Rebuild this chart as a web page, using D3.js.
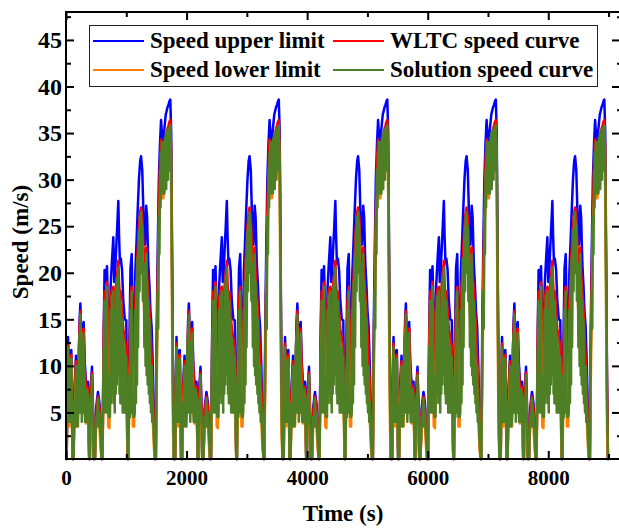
<!DOCTYPE html>
<html>
<head>
<meta charset="utf-8">
<script src="https://cdn.jsdelivr.net/npm/d3@7"></script>
<style>
  body { margin: 0; background: #fff; }
  text { font-family: "Times New Roman", "Liberation Serif", serif; font-weight: bold; fill: #000; }
</style>
</head>
<body>
<div id="graf"></div>
<script>
// one WLTC cycle (time in s, speed in m/s)
cycleTime = [0, 11, 20, 33, 45, 55, 70, 88, 100, 110, 125, 140, 166, 180, 200, 225, 238, 255, 275, 293,
  310, 330, 350, 365, 385, 395, 410, 431, 445, 460, 480, 500, 530, 555, 575, 590, 605, 625, 640, 660,
  680, 700, 720, 740, 760, 785, 800, 815, 835, 850, 868, 880, 895, 910, 930, 950, 975, 1000, 1015, 1025,
  1035, 1050, 1070, 1090, 1110, 1130, 1150, 1170, 1185, 1210, 1230, 1245, 1265, 1290, 1310, 1330, 1345, 1365, 1385, 1400,
  1420, 1440, 1460, 1477, 1490, 1505, 1520, 1540, 1560, 1577, 1590, 1600, 1615, 1625, 1640, 1655, 1670, 1685, 1700, 1715,
  1730, 1745, 1760, 1775, 1790, 1800]

wltcSpeed = [0, 0, 7, 12.4, 10, 9.5, 11, 11.2, 5, 0, 0, 7, 10.5, 8, 6, 14, 15.9, 12, 13, 14,
  10, 7.5, 7.8, 7.6, 0, 0, 7, 9.3, 6, 0, 0, 5, 6.7, 5.5, 3, 0, 0, 13, 18, 17,
  19, 14, 8, 17, 18.2, 18.5, 16, 17, 19, 20, 21.3, 19, 17, 18, 16, 14, 13, 12, 4, 0,
  0, 10, 17, 18.5, 12, 9, 17, 19.5, 22, 25, 26.5, 27, 26, 22, 20, 22.7, 20, 18, 16, 14,
  11, 8, 3, 0, 0, 12, 19, 27, 32, 34.3, 33, 32, 32.5, 33, 34, 34.5, 35, 35.5, 35.8, 36.2,
  36.4, 33, 20, 8, 0, 0]

upperSpeed = [0, 0, 7.5, 13.1, 10.5, 10.2, 11.6, 11.7, 5.5, 0, 0, 7.5, 11.1, 8.5, 6.6, 14.8, 16.7, 12.8, 13.8, 14.7,
  10.6, 8.2, 8.3, 8.3, 0, 0, 7.6, 9.9, 6.5, 0, 0, 5.5, 7.2, 6, 3.3, 0, 0, 13.8, 20.3, 19,
  20.7, 15, 9, 18.5, 21, 23.8, 19, 20, 23, 25, 27.7, 24, 21, 21.5, 20.3, 17, 15, 14.9, 5, 0,
  0, 12, 20.5, 22, 14, 10, 20, 23.3, 26, 30, 32, 32.5, 31, 25, 23, 27.2, 26, 21, 18.5, 16,
  14.2, 10, 4, 0, 0, 14, 21.7, 30, 34, 36.4, 35, 34.5, 34.2, 35, 36, 37, 37.4, 37.8, 38, 38.4,
  38.6, 35, 22, 9, 0, 0]

lowerSpeed = [0, 0, 4, 11, 8, 3.5, 9.5, 9.8, 3.5, 0, 0, 4, 9, 3.5, 3.5, 12, 14, 6, 9, 11,
  5, 3.8, 6.5, 5, 0, 0, 4, 7, 3.5, 0, 0, 3.3, 5, 3.3, 1, 0, 0, 8, 14, 11,
  15, 3.5, 3.3, 12, 14, 16, 11.4, 11.5, 15, 17, 18, 14, 11, 14, 10, 10, 9, 7, 2, 0,
  0, 6, 12, 14, 3.5, 3.5, 12, 15, 18, 22, 25, 25.5, 23, 17, 14, 18, 15, 13, 11, 7.5,
  7.5, 4, 1, 0, 0, 8, 15, 24, 28, 29, 28.5, 28, 28, 29, 29, 30, 31, 31, 32, 33,
  34, 28, 14, 3, 0, 0]

// the solution oscillates much more, so it keeps its own time points
solutionTime = [0, 11, 20, 33, 40, 45, 55, 62, 70, 78, 88, 100, 110, 125, 140, 150, 166, 172, 180, 190,
  200, 212, 225, 232, 238, 247, 255, 262, 275, 283, 293, 300, 310, 318, 330, 340, 350, 358, 365, 385,
  395, 410, 420, 431, 438, 445, 460, 480, 500, 510, 530, 540, 555, 575, 590,
  605, 625, 632, 640, 648, 660, 668, 680, 690, 700, 710, 720, 730, 740, 748, 760, 770, 785, 792, 800,
  808, 815, 825, 835, 842, 850, 858, 868, 874, 880, 888, 895, 902, 910, 920, 930, 940, 950, 962, 975,
  987, 1000, 1015, 1025,
  1035, 1050, 1060, 1070, 1080, 1090, 1100, 1110, 1120, 1130, 1140, 1150, 1160, 1170, 1178, 1185, 1195, 1210, 1220, 1230,
  1238, 1245, 1255, 1265, 1275, 1290, 1300, 1310, 1320, 1330, 1338, 1345, 1355, 1365, 1375, 1385, 1392, 1400, 1410, 1420,
  1430, 1440, 1460, 1477,
  1490, 1505, 1520, 1530, 1540, 1550, 1560, 1568, 1577, 1584, 1590, 1600, 1608, 1615, 1625, 1632, 1640, 1648, 1655, 1662,
  1670, 1678, 1685, 1692, 1700, 1708, 1715, 1722, 1730, 1745, 1760, 1775, 1790, 1800]

solutionSpeed = [0, 0, 6, 12, 4, 9.5, 4, 10, 10.5, 4, 10.8, 4, 0, 0, 6, 3.5, 10, 4, 5, 3.5,
  5, 12, 13.5, 5, 15.5, 5, 10, 4, 12.5, 5, 13.5, 5, 8, 4, 6, 4, 7.5, 4, 7, 0,
  0, 6.5, 4, 9, 4, 5, 0, 0, 4.5, 3.5, 6.5, 3.5, 5, 2, 0,
  0, 12, 5, 17, 6, 16, 5, 18.5, 5, 9, 4.5, 5, 4.5, 16, 6, 17.5, 7, 18, 6, 14,
  5, 16, 7, 18.5, 8, 19.5, 10, 20.5, 9, 18, 7, 16, 6, 17, 6, 15, 5, 13, 5, 12,
  5, 11, 3, 0,
  0, 9, 4.5, 16, 5, 18, 5, 5, 4.5, 4.5, 5, 16, 6, 19, 8, 21.5, 12, 24.5, 18, 26,
  20, 26.5, 20, 25, 17, 21, 12, 19, 10, 22, 9, 19, 8, 17, 7, 15, 6, 9, 5, 10,
  4, 6, 2, 0,
  0, 11, 18, 14, 26, 22, 31, 27, 33, 28.5, 34, 29, 34, 28.5, 34, 28.5, 34.5, 29, 35, 29,
  35, 30, 35.3, 30, 35.5, 31, 35.6, 31, 35.8, 32, 19, 6, 0, 0]

cycleStarts = [0, 1800, 3600, 5400, 7200]
xTicks = [0, 2000, 4000, 6000, 8000]
xMinorTicks = [1000, 3000, 5000, 7000, 9000]
yTicks = [5, 10, 15, 20, 25, 30, 35, 40, 45]
yMinorTicks = [2.5, 7.5, 12.5, 17.5, 22.5, 27.5, 32.5, 37.5, 42.5, 47.5]

nombres = ['Speed upper limit', 'WLTC speed curve', 'Speed lower limit', 'Solution speed curve']
colores = ['#0000ff', '#ff0000', '#ff8000', '#4f7f24']
tiempos = [cycleTime, cycleTime, cycleTime, solutionTime]
valores = [upperSpeed, wltcSpeed, lowerSpeed, solutionSpeed]

ancho_total = 619
alto_total = 528
margins = { top: 12, left: 66, right: -1, bottom: 69 }
ancho = ancho_total - margins.left - margins.right
alto = alto_total - margins.top - margins.bottom

svg = d3.select('#graf').append('svg')
  .attr('width', ancho_total)
  .attr('height', alto_total)

g = svg.append('g')
  .attr('transform', `translate(${margins.left}, ${margins.top})`)

x = d3.scaleLinear().domain([0, 9190]).range([0, ancho])
y = d3.scaleLinear().domain([0, 48]).range([alto, 0])

// series: repeat the cycle five times
series = valores.map((vals, k) => {
  puntos = []
  cycleStarts.forEach(t0 => {
    tiempos[k].forEach((t, i) => puntos.push({ t: t0 + t, v: vals[i] }))
  })
  return { nombre: nombres[k], color: colores[k], puntos: puntos }
})

lineaGen = d3.line().x(d => x(d.t)).y(d => y(d.v))

g.selectAll('.serie')
  .data(series)
  .enter().append('path')
  .attr('class', 'serie')
  .attr('fill', 'none')
  .attr('stroke', d => d.color)
  .attr('stroke-width', 2.5)
  .attr('stroke-linejoin', 'round')
  .attr('d', d => lineaGen(d.puntos))

// ejes (ticks hacia adentro)
function eje(gen, vals, size, pad, fmt) {
  return gen.tickValues(vals).tickSize(size).tickPadding(pad).tickFormat(fmt)
}

xAxis = g.append('g').attr('transform', `translate(0, ${alto})`)
  .call(eje(d3.axisBottom(x), xTicks, -8, 11, d3.format('d')))
g.append('g').attr('transform', `translate(0, ${alto})`)
  .call(eje(d3.axisBottom(x), xMinorTicks, -5, 0, ''))
g.append('g').call(eje(d3.axisTop(x), xTicks, -8, 0, ''))
g.append('g').call(eje(d3.axisTop(x), xMinorTicks, -5, 0, ''))

yAxis = g.append('g')
  .call(eje(d3.axisLeft(y), yTicks, -8, 4, d3.format('d')))
g.append('g').call(eje(d3.axisLeft(y), yMinorTicks, -5, 0, ''))
g.append('g').attr('transform', `translate(${ancho}, 0)`)
  .call(eje(d3.axisRight(y), yTicks, -8, 0, ''))
g.append('g').attr('transform', `translate(${ancho}, 0)`)
  .call(eje(d3.axisRight(y), yMinorTicks, -3, 0, ''))

g.selectAll('.domain').remove()
g.selectAll('.tick line').attr('stroke', '#000').attr('stroke-width', 2)
xAxis.selectAll('.tick text').style('font-size', '21px')
yAxis.selectAll('.tick text').style('font-size', '24px')

g.append('rect')
  .attr('width', ancho)
  .attr('height', alto)
  .attr('fill', 'none')
  .attr('stroke', '#000')
  .attr('stroke-width', 2)

// titulos
svg.append('text')
  .attr('x', margins.left + ancho / 2)
  .attr('y', 521)
  .attr('text-anchor', 'middle')
  .style('font-size', '23px')
  .text('Time (s)')

svg.append('text')
  .attr('transform', 'translate(28, 242) rotate(-90)')
  .attr('text-anchor', 'middle')
  .style('font-size', '23px')
  .text('Speed (m/s)')

// leyenda
leyenda = svg.append('g')
leyenda.append('rect')
  .attr('x', 89.5).attr('y', 25.5)
  .attr('width', 508).attr('height', 61)
  .attr('fill', '#fff')
  .attr('stroke', '#222')
  .attr('stroke-width', 1)

posLeyenda = [[93, 41], [333, 41], [93, 70], [333, 70]]
series.forEach((s, i) => {
  p = posLeyenda[i]
  leyenda.append('line')
    .attr('x1', p[0]).attr('x2', p[0] + 51)
    .attr('y1', p[1]).attr('y2', p[1])
    .attr('stroke', s.color).attr('stroke-width', 2)
  leyenda.append('text')
    .attr('x', p[0] + 57)
    .attr('y', p[1] + 7)
    .style('font-size', '23px')
    .text(s.nombre)
})
</script>
</body>
</html>
